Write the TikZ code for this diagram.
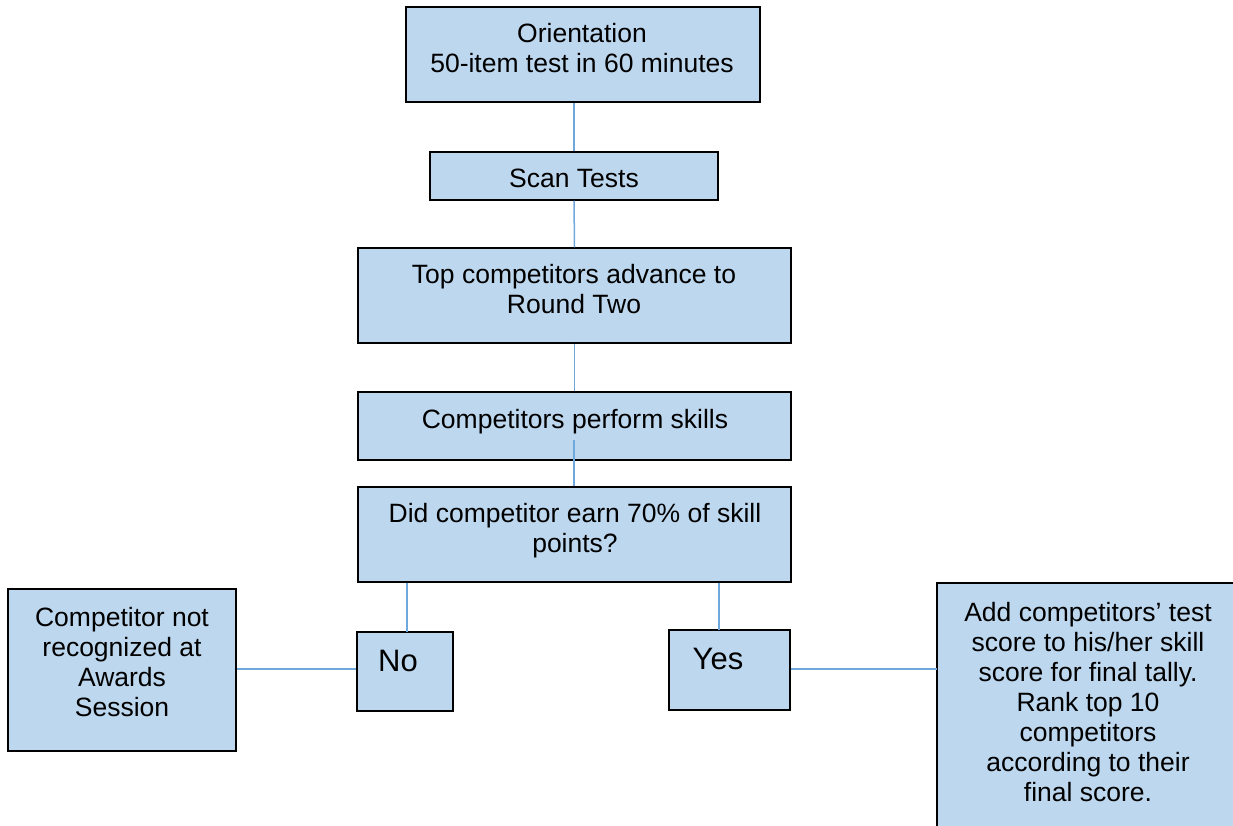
\documentclass[tikz,border=0pt]{standalone}
\usepackage{fontspec}
\setmainfont{Liberation Sans}
\definecolor{boxfill}{HTML}{BDD7EE}
\definecolor{linkblue}{HTML}{6FA8DC}
\begin{document}
\begin{tikzpicture}[x=1pt,y=-1pt,
  box/.style={draw=black, line width=1.5pt, fill=boxfill, rectangle, inner sep=0pt},
  txt/.style={font=\fontsize{26.5}{30}\selectfont, align=center, inner sep=0pt},
  big/.style={font=\fontsize{31}{36}\selectfont, inner sep=0pt},
  link/.style={draw=linkblue, line width=1.5pt}]
\useasboundingbox (0,0) rectangle (1233,825);
\clip (0,0) rectangle (1233,825);

% boxes
\node[box, minimum width=354pt, minimum height=95pt] (orient) at (583,54.5) {};
\node[box, minimum width=288pt, minimum height=48pt] (scan) at (574,176) {};
\node[box, minimum width=433pt, minimum height=95pt] (topbox) at (574.5,295.5) {};
\node[box, minimum width=433pt, minimum height=68pt] (perform) at (574.5,426) {};
\node[box, minimum width=433pt, minimum height=95pt] (did) at (574.5,534.5) {};
\node[box, minimum width=96pt, minimum height=79pt] (nobox) at (405,671.5) {};
\node[box, minimum width=121pt, minimum height=80pt] (yesbox) at (729.5,670) {};
\node[box, minimum width=228pt, minimum height=162pt] (notrec) at (122,670) {};
\node[fill=boxfill, rectangle, inner sep=0pt, minimum width=330pt, minimum height=267pt] (tally) at (1102,716.5) {};
\draw[black, line width=1.5pt] (tally.south west) -- (tally.north west) -- (tally.north east);

% connectors
\coordinate (pin) at (574,440);
\coordinate (yesTop) at (719,630);
\coordinate (noTop) at (407,632);
\draw[link] (scan.north |- orient.south) -- (scan.north);
\draw[link] (scan.south) -- (topbox.north);
\draw[link] (topbox.south) -- (perform.north);
\draw[link] (pin) -- (pin |- did.north);
\draw[link] (noTop |- did.south) -- (noTop);
\draw[link] (yesTop |- did.south) -- (yesTop);
\draw[link] (notrec.east |- 0,669) -- (nobox.west |- 0,669);
\draw[link] (yesbox.east |- 0,669) -- (tally.west |- 0,669);

% texts
\node[txt] (orientT) at (582,48.2) {Orientation\\50-item test in 60 minutes};
\node[txt] (scanT) at (574,178.5) {Scan Tests};
\node[txt] (topT) at (574,289.5) {Top competitors advance to\\Round Two};
\node[txt] (performT) at (575,422) {Competitors perform skills};
\node[txt] (didT) at (575,531) {Did competitor earn 70\% of skill\\points?};
\node[big] (noT) at (398,661) {No};
\node[big] (yesT) at (718,659) {Yes};
\node[txt] (notrecT) at (122,662) {Competitor not\\recognized at\\Awards\\Session};
\node[txt] (tallyT) at (1088,702) {Add competitors’ test\\score to his/her skill\\score for final tally.\\Rank top 10\\competitors\\according to their\\final score.};
\end{tikzpicture}
\end{document}
